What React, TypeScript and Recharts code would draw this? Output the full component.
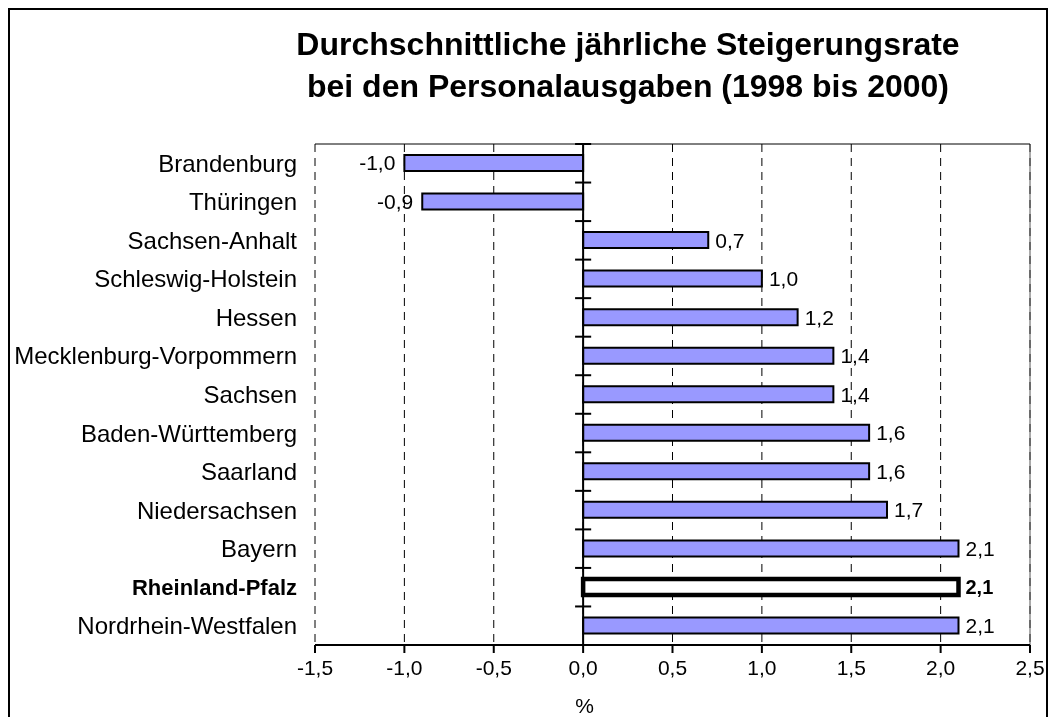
import React from 'react'
import { Bar, BarChart, CartesianGrid, Cell, Label, LabelList, ReferenceLine, XAxis, YAxis } from 'recharts'

// Personalausgaben: jährliche Steigerungsrate 1998-2000, in %
const states = [
  'Brandenburg', 'Thüringen', 'Sachsen-Anhalt', 'Schleswig-Holstein', 'Hessen',
  'Mecklenburg-Vorpommern', 'Sachsen', 'Baden-Württemberg', 'Saarland',
  'Niedersachsen', 'Bayern', 'Rheinland-Pfalz', 'Nordrhein-Westfalen',
]
const rates = [-1.0, -0.9, 0.7, 1.0, 1.2, 1.4, 1.4, 1.6, 1.6, 1.7, 2.1, 2.1, 2.1]
const highlighted = 'Rheinland-Pfalz'
const xTicks = [-1.5, -1.0, -0.5, 0, 0.5, 1.0, 1.5, 2.0, 2.5]
const titleLines = ['Durchschnittliche jährliche Steigerungsrate', 'bei den Personalausgaben (1998 bis 2000)']

const n = states.length
// slot spreads the rows over 0..n so the hidden "bands" axis runs edge to edge
const data = states.map((name, i) => ({ name, rate: rates[i], slot: (i * n) / (n - 1) }))
// band edges on the zero axis (0..n)
const bandEdges = states.map((_, i) => i).concat(n)

const font = "Arial, 'Liberation Sans', sans-serif"
const fmt = (v: number) => v.toFixed(1).replace('.', ',')

const CategoryTick = (props: any) => {
  const { x, y, payload } = props
  const bold = payload.value === highlighted
  return (
    <text x={x} y={y} dy="0.355em" textAnchor="end" fill="#000" fontFamily={font}
      fontSize={bold ? 22 : 24} fontWeight={bold ? 700 : 400}>
      {payload.value}
    </text>
  )
}

const ValueLabel = (props: any) => {
  const vb = props.viewBox || props
  const x = Number(vb.x), y = Number(vb.y), w = Number(vb.width), h = Number(vb.height)
  const value = Number(props.value)
  const left = Math.min(x, x + w)
  const right = Math.max(x, x + w)
  const neg = value < 0
  const bold = states[props.index] === highlighted
  return (
    <text x={neg ? left - 9 : right + 7} y={y + h / 2} dy="0.355em" textAnchor={neg ? 'end' : 'start'}
      fill="#000" fontFamily={font} fontSize={bold ? 20 : 21} fontWeight={bold ? 700 : 400}>
      {fmt(value)}
    </text>
  )
}

export default function App() {
  return (
    <div style={{ position: 'fixed', left: 8, top: 8, width: 1040, height: 709, fontFamily: font }}>
      <div style={{ position: 'absolute', left: 0, top: 0, width: 1040, height: 730, border: '2px solid #000', boxSizing: 'border-box', pointerEvents: 'none' }} />
      <div style={{ position: 'absolute', left: 120, top: 15, width: 1000, textAlign: 'center', fontWeight: 700, fontSize: 32, lineHeight: '42px', color: '#000' }}>
        {titleLines.map(t => <div key={t}>{t}</div>)}
      </div>
      <BarChart width={1040} height={709} data={data} layout="vertical" barSize={16}
        margin={{ top: 136, right: 18, bottom: 0, left: 0 }}>
        <CartesianGrid horizontal={false} stroke="#000" strokeDasharray="8 6" />
        <XAxis type="number" domain={[-1.5, 2.5]} ticks={xTicks} tickFormatter={fmt} interval={0}
          allowDataOverflow height={72} tickSize={8} tickMargin={7}
          axisLine={{ stroke: '#000', strokeWidth: 2 }} tickLine={{ stroke: '#000', strokeWidth: 2 }}
          tick={{ fill: '#000', fontSize: 21, fontFamily: font }}>
          <Label value="%" position="insideBottom" offset={4} dx={-88} fontSize={21} fill="#000" fontFamily={font} />
        </XAxis>
        <YAxis type="category" dataKey="name" width={307} axisLine={false} tickLine={false}
          tickSize={0} tickMargin={18} interval={0} tick={<CategoryTick />} />
        <YAxis yAxisId="bands" type="number" dataKey="slot" domain={[0, n]} allowDataOverflow hide />
        <ReferenceLine x={2.5} stroke="#555" strokeWidth={1} />
        <ReferenceLine yAxisId="bands" y={0} stroke="#000" strokeWidth={1} ifOverflow="visible" />
        <Bar dataKey="rate" isAnimationActive={false} fill="#9999FF" stroke="#000" strokeWidth={2}>
          {data.map(d => (
            <Cell key={d.name} fill={d.name === highlighted ? '#fff' : '#9999FF'}
              strokeWidth={d.name === highlighted ? 4.5 : 2} />
          ))}
          <LabelList dataKey="rate" content={(p: any) => <ValueLabel {...p} />} />
        </Bar>
        <ReferenceLine x={0} stroke="#000" strokeWidth={2} />
        {bandEdges.map(k => (
          <ReferenceLine key={`tick-${k}`} yAxisId="bands" stroke="#000" strokeWidth={2} ifOverflow="visible"
            segment={[{ x: -0.045, y: k }, { x: 0.045, y: k }]} />
        ))}
      </BarChart>
    </div>
  )
}
